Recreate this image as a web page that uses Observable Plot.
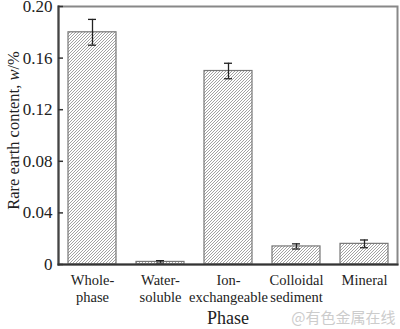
<!DOCTYPE html>
<html><head><meta charset="utf-8">
<script src="https://cdn.jsdelivr.net/npm/d3@7"></script>
<script src="https://cdn.jsdelivr.net/npm/@observablehq/plot@0.6"></script>
<style>
body{margin:0;background:#fff}
#chart{width:400px;height:329px}
</style>
</head><body><div id="chart"></div>
<script>
const phases = ["Whole-phase", "Water-soluble", "Ion-exchangeable", "Colloidal sediment", "Mineral"];
const tickLabels = ["Whole-\nphase", "Water-\nsoluble", "Ion-\nexchangeable", "Colloidal\nsediment", "Mineral"];
const contents = [0.180, 0.002, 0.150, 0.014, 0.016];
const errors = [0.010, 0.001, 0.006, 0.002, 0.003];
const yTicks = [0, 0.04, 0.08, 0.12, 0.16, 0.20];

const data = phases.map((p, i) => ({phase: p, value: contents[i], lo: contents[i] - errors[i], hi: contents[i] + errors[i]}));
const serif = "Liberation Serif, Times New Roman, serif";

const svg = Plot.plot({
  width: 400, height: 329,
  marginLeft: 58, marginRight: 3, marginTop: 6, marginBottom: 65,
  style: {fontFamily: serif, background: "white", color: "#222"},
  x: {domain: phases, paddingInner: 0.3, paddingOuter: 0.14},
  y: {domain: [0, 0.2]},
  marks: [
    Plot.barY(data, {x: "phase", y: "value", fill: "url(#hatch)", stroke: "#777", strokeWidth: 1.2}),
    Plot.ruleX(data, {x: "phase", y1: "lo", y2: "hi", stroke: "#222", strokeWidth: 1.3}),
    Plot.tickY(data, {x: "phase", y: "lo", insetLeft: 20, insetRight: 20, stroke: "#222", strokeWidth: 1.3}),
    Plot.tickY(data, {x: "phase", y: "hi", insetLeft: 20, insetRight: 20, stroke: "#222", strokeWidth: 1.3}),
    Plot.frame({stroke: "#888", strokeWidth: 2}),
    Plot.frame({anchor: "left", stroke: "#444", strokeWidth: 2}),
    Plot.frame({anchor: "bottom", stroke: "#333", strokeWidth: 2}),
    Plot.axisY({ticks: yTicks, tickFormat: d => d === 0 ? "0" : d.toFixed(2), tickSize: -5, tickPadding: 11, fontSize: 17, label: null, stroke: "#333", strokeWidth: 1.5, fill: "#222"}),
    Plot.axisX({tickSize: 0, tickPadding: 8, tickFormat: (d) => tickLabels[phases.indexOf(d)], fontSize: 14.5, lineHeight: 1.2, label: null, fill: "#222"}),
    Plot.text([0], {frameAnchor: "left", dx: -45, dy: -5, rotate: -90, textAnchor: "middle", text: () => "Rare earth content, w/%", fontSize: 16.5, fill: "#222"}),
    Plot.text([0], {frameAnchor: "bottom", dy: 59, text: () => "Phase", fontSize: 18, fill: "#222"}),
    Plot.text([0], {frameAnchor: "bottom-right", dx: -2, dy: 58, text: () => "@有色金属在线", fontSize: 15, fill: "#ccc", textAnchor: "end"})
  ]
});

const defs = d3.select(svg).insert("defs", ":first-child");
const s = 3;
const pat = defs.append("pattern").attr("id", "hatch").attr("patternUnits", "userSpaceOnUse").attr("width", s).attr("height", s);
pat.append("rect").attr("width", s).attr("height", s).attr("fill", "white");
pat.append("path").attr("d", `M${-s/4},${s/4}L${s/4},${-s/4}M0,${s}L${s},0M${s*3/4},${s*5/4}L${s*5/4},${s*3/4}`).attr("stroke", "#8a8a8a").attr("stroke-width", 0.8);

d3.select(svg).selectAll("text").each(function() {
  const t = d3.select(this);
  const txt = t.text();
  if (txt === "@有色金属在线") {
    t.style("font-family", "'Noto Sans CJK SC', sans-serif");
    return;
  }
  t.style("font-family", "'Liberation Serif', 'Times New Roman', serif").style("font-variant", "normal").style("font-variant-numeric", "normal");
  if (txt === "Rare earth content, w/%") {
    t.text(null);
    t.append("tspan").text("Rare earth content, ");
    t.append("tspan").attr("font-style", "italic").text("w");
    t.append("tspan").text("/%");
  }
});

document.getElementById("chart").appendChild(svg);
</script>
</body></html>
